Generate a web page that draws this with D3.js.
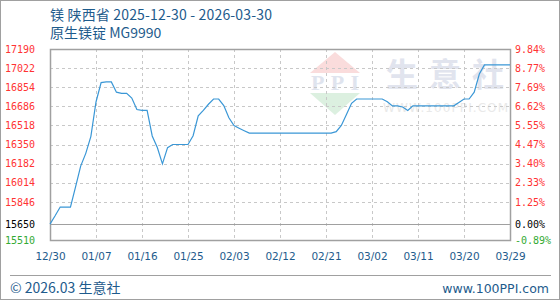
<!DOCTYPE html>
<html><head><meta charset="utf-8">
<script src="https://cdn.jsdelivr.net/npm/d3@7/dist/d3.min.js"></script>
<style>
html,body{margin:0;padding:0;background:#fff;}
svg{display:block;}
</style></head>
<body>
<svg id="chart" width="560" height="300"></svg>
<script>
// ---- data ----
const titleLine1 = "镁 陕西省 2025-12-30 - 2026-03-30";
const titleLine2 = "原生镁锭 MG9990";
const xLabels = ["12/30","01/07","01/16","01/25","02/03","02/12","02/21","03/02","03/11","03/20","03/29"];
const yTicks = [17190,17022,16854,16686,16518,16350,16182,16014,15846,15650,15510];
const baseValue = 15650;
const prices = [
  15650,15723,15800,15800,15800,15977,16160,16272,16422,16724,
  16895,16900,16900,16810,16800,16800,16759,16658,16650,16650,
  16425,16323,16180,16322,16350,16350,16350,16350,16427,16602,
  16650,16704,16750,16750,16692,16585,16516,16493,16471,
  16450,16450,16450,16450,16450,16450,16450,16450,16450,16450,16450,16450,16450,16450,16450,16450,16450,
  16463,16518,16613,16712,
  16750,16750,16750,16750,16750,16750,
  16726,16690,16690,16680,16650,
  16690,16690,16690,16690,16690,16690,16690,16690,16690,
  16720,16750,16750,16810,16970,
  17050,17050,17050,17050,17050,17050
];

// ---- layout ----
const svg = d3.select("#chart");
const W = 560, H = 300;
const L = 50, R = 510, T = 49, B = 240;
const blue = "#1e5b8c";

svg.append("rect").attr("x",0.5).attr("y",0.5).attr("width",W-1).attr("height",H-1)
  .attr("fill","#fff").attr("stroke","#a0a0a0");

// titles
svg.append("text").attr("x",50).attr("y",20).attr("fill",blue)
  .style("font-family","'Noto Sans CJK SC','Noto Sans',sans-serif").style("font-size","14px")
  .attr("textLength",222).attr("lengthAdjust","spacing")
  .text(titleLine1);
svg.append("text").attr("x",50).attr("y",38).attr("fill",blue)
  .style("font-family","'Noto Sans CJK SC','Noto Sans',sans-serif").style("font-size","14px")
  .text(titleLine2);

// scales
const x = d3.scaleLinear().domain([0, prices.length-1]).range([L, R]);
const xl = d3.scalePoint().domain(xLabels).range([L, R]);
const y = d3.scaleLinear().domain([15510, 17190]).range([B, T]);

// watermark
const wm = svg.append("g");
wm.append("path").attr("d", `M310,73 L335,52 L360,73 Z`).attr("fill","#fadcdc");
wm.append("text").attr("x",335).attr("y",90).attr("text-anchor","middle")
  .style("font-family","'Liberation Serif',serif").style("font-weight","bold").style("font-size","22px")
  .attr("fill","#dfe4ee").attr("textLength",48).text("PPI");
wm.append("path").attr("d", `M310,93 L360,93 L335,115 Z`).attr("fill","#dcf0e0");
wm.append("text").attr("x",386).attr("y",86)
  .style("font-family","'Noto Sans CJK SC',sans-serif").style("font-size","32px").style("font-weight","bold")
  .style("letter-spacing","11px").attr("fill","#e1e4ee").text("生意社");
wm.append("text").attr("x",383).attr("y",112).attr("textLength",125)
  .style("font-family","'DejaVu Sans',sans-serif").style("font-size","12px")
  .attr("fill","#e9e9e9").text("WWW.100PPI.COM");

// horizontal grid
const grid = svg.append("g");
grid.selectAll("line.h").data(yTicks.filter(v => v !== baseValue && v !== 15510 && v !== 17190)).enter()
  .append("line").attr("x1",L).attr("x2",R)
  .attr("y1",d=>Math.round(y(d))+0.5).attr("y2",d=>Math.round(y(d))+0.5)
  .attr("stroke","#c8c8c8").attr("stroke-dasharray","3,3");
// vertical grid
grid.selectAll("line.v").data(xLabels.slice(1,-1)).enter()
  .append("line").attr("y1",T).attr("y2",B)
  .attr("x1",d=>Math.round(xl(d))+0.5).attr("x2",d=>Math.round(xl(d))+0.5)
  .attr("stroke","#c8c8c8").attr("stroke-dasharray","3,3");
// base line
grid.append("line").attr("x1",L).attr("x2",R)
  .attr("y1",Math.round(y(baseValue))+0.5).attr("y2",Math.round(y(baseValue))+0.5)
  .attr("stroke","#a0a0a0");

// frame
svg.append("rect").attr("x",L+0.5).attr("y",T+0.5).attr("width",R-L).attr("height",B-T)
  .attr("fill","none").attr("stroke","#a0a0a0").attr("stroke-width",1.5);

// line
const line = d3.line().x((d,i)=>x(i)).y(d=>y(d));
svg.append("path").datum(prices).attr("d",line).attr("fill","none")
  .attr("stroke","#3a97d6").attr("stroke-width",1.2);

// axes
const colorFor = v => v > baseValue ? "#ff3333" : (v === baseValue ? "#000" : "#33aa33");
const leftAxis = svg.append("g").attr("transform",`translate(${L},0)`)
  .call(d3.axisLeft(y).tickValues(yTicks).tickSize(0).tickPadding(15).tickFormat(d3.format("d")));
leftAxis.select(".domain").remove();
leftAxis.selectAll("text").attr("fill",d=>colorFor(d))
  .style("font-family","'DejaVu Sans Mono',monospace").style("font-size","10px");

const pct = v => ((v - baseValue)/baseValue*100).toFixed(2) + "%";
const rightAxis = svg.append("g").attr("transform",`translate(${R},0)`)
  .call(d3.axisRight(y).tickValues(yTicks).tickSize(0).tickPadding(5).tickFormat(pct));
rightAxis.select(".domain").remove();
rightAxis.selectAll("text").attr("fill",d=>colorFor(d))
  .style("font-family","'DejaVu Sans Mono',monospace").style("font-size","10px");

const bottomAxis = svg.append("g").attr("transform",`translate(0,${B})`)
  .call(d3.axisBottom(xl).tickSize(0).tickPadding(13));
bottomAxis.select(".domain").remove();
bottomAxis.selectAll("text").attr("fill",blue)
  .style("font-family","'DejaVu Sans',sans-serif").style("font-size","10.5px");

// footer
svg.append("line").attr("x1",10).attr("x2",551).attr("y1",275.5).attr("y2",275.5).attr("stroke","#a0a0a0");
svg.append("text").attr("x",10).attr("y",293).attr("fill",blue)
  .style("font-family","'Noto Sans CJK SC','Noto Sans',sans-serif").style("font-size","14px")
  .text("© 2026.03 生意社");
svg.append("text").attr("x",549).attr("y",293).attr("text-anchor","end").attr("fill",blue)
  .style("font-family","'DejaVu Sans',sans-serif").style("font-size","12.5px")
  .text("www.100PPI.com");
</script>
</body></html>
